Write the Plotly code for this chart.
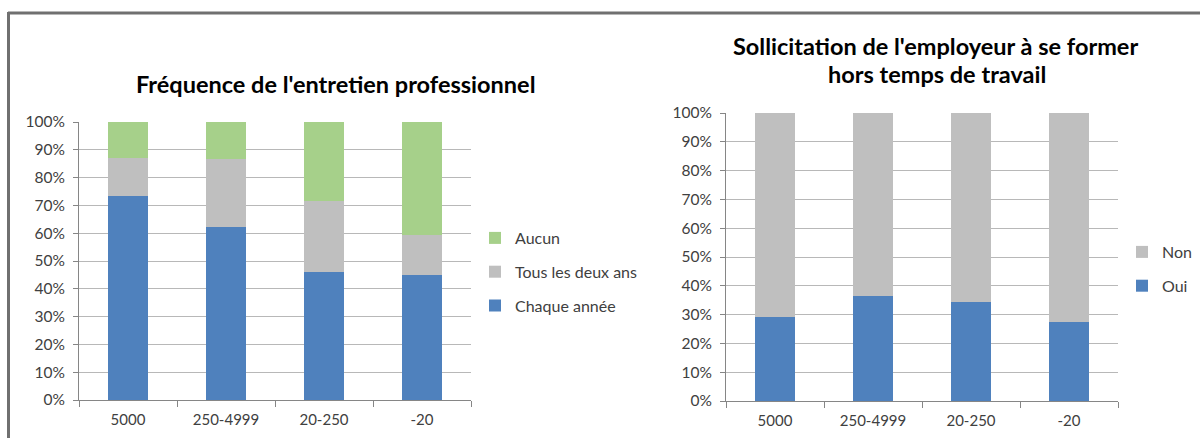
import plotly.graph_objects as go

categories = ["5000", "250-4999", "20-250", "-20"]

# Fréquence de l'entretien professionnel (%)
chaque_annee = [73.3, 62.3, 46.0, 45.0]
tous_deux_ans = [13.6, 24.3, 25.5, 14.5]
aucun = [13.1, 13.4, 28.5, 40.5]

# Sollicitation de l'employeur (%)
oui = [29.1, 36.3, 34.4, 27.6]
non = [70.9, 63.7, 65.6, 72.4]

BLUE = "#4f81bd"
GRAY = "#bfbfbf"
GREEN = "#a6d08a"
W, H = 1200, 438
FONT = "Lato, Open Sans, sans-serif"

fig = go.Figure()

left = [("Chaque année", chaque_annee, BLUE, 3),
        ("Tous les deux ans", tous_deux_ans, GRAY, 2),
        ("Aucun", aucun, GREEN, 1)]
for name, vals, col, rank in left:
    fig.add_trace(go.Bar(x=categories, y=vals, name=name, marker_color=col,
                         marker_line_width=0, xaxis="x", yaxis="y",
                         legend="legend", legendgroup=name, legendrank=rank))

right = [("Oui", oui, BLUE, 2), ("Non", non, GRAY, 1)]
for name, vals, col, rank in right:
    fig.add_trace(go.Bar(x=categories, y=vals, name=name, marker_color=col,
                         marker_line_width=0, xaxis="x2", yaxis="y2",
                         legend="legend2", legendgroup=name, legendrank=rank))

def px_x(v):
    return v / W

def px_y(v):
    return 1 - v / H

xax = dict(showline=True, linecolor="#868686", linewidth=1, ticks="outside",
           tickson="boundaries", ticklen=6, tickcolor="#868686",
           tickfont=dict(size=15, color="#404040"), ticklabelstandoff=6,
           showgrid=False)
yax = dict(range=[0, 100], dtick=10, ticksuffix="%", showline=True,
           linecolor="#868686", linewidth=1, ticks="outside", ticklen=5,
           tickcolor="#868686", gridcolor="#b8b8b8", gridwidth=1,
           tickfont=dict(size=15.5, color="#404040"), ticklabelstandoff=5,
           zeroline=False)
leg = dict(xanchor="left", yanchor="middle", traceorder="grouped",
           tracegroupgap=10, itemwidth=30, font=dict(size=16, color="#404040"),
           bgcolor="rgba(0,0,0,0)")

fig.update_layout(
    width=W, height=H,
    margin=dict(l=0, r=0, t=0, b=0, autoexpand=False),
    paper_bgcolor="white", plot_bgcolor="white",
    font=dict(family=FONT, color="#404040"),
    barmode="stack", bargap=0.59,
    xaxis=dict(domain=[px_x(79), px_x(471)], anchor="y", **xax),
    yaxis=dict(domain=[px_y(400), px_y(122)], anchor="x", **yax),
    xaxis2=dict(domain=[px_x(726), px_x(1118)], anchor="y2", **xax),
    yaxis2=dict(domain=[px_y(401), px_y(113)], anchor="x2", **yax),
    legend=dict(x=px_x(475), y=px_y(272), **leg),
    legend2=dict(x=px_x(1122), y=px_y(269), **leg),
    showlegend=True,
)

titles = [("Fréquence de l'entretien professionnel", 336, 84),
          ("Sollicitation de l'employeur à se former", 935, 46),
          ("hors temps de travail", 937, 74)]
for txt, tx, ty in titles:
    fig.add_annotation(text="<b>" + txt + "</b>", x=px_x(tx), y=px_y(ty),
                       xref="paper", yref="paper", xanchor="center",
                       yanchor="middle", showarrow=False,
                       font=dict(size=23.5, color="#000000"))

# outer frame (top and left edges visible)
fig.add_shape(type="line", xref="paper", yref="paper", x0=px_x(8), x1=1,
              y0=px_y(13), y1=px_y(13), line=dict(color="#707070", width=3))
fig.add_shape(type="line", xref="paper", yref="paper", x0=px_x(8.5), x1=px_x(8.5),
              y0=px_y(12), y1=0, line=dict(color="#707070", width=3))

fig.write_html("out.html", config={"displayModeBar": False},
               post_script="document.body.style.margin='0';document.body.style.overflow='hidden';")
